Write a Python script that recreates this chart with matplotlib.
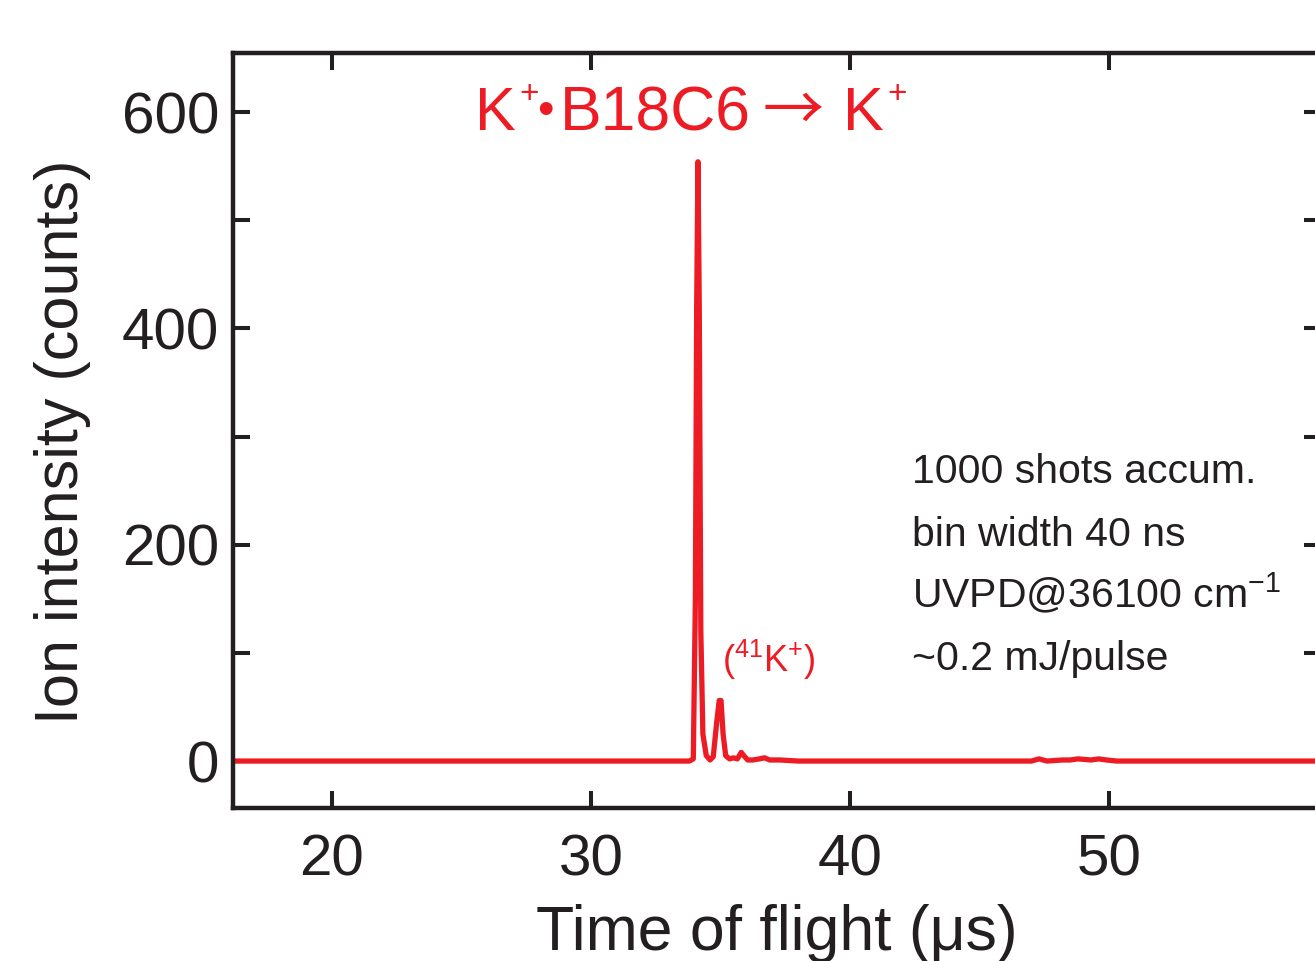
import matplotlib
matplotlib.use("Agg")
import matplotlib.pyplot as plt
from matplotlib.ticker import MultipleLocator

# ---- data ----
tof_us = [16.0, 19.0, 22.0, 27.0, 31.0, 33.8, 33.95, 34.03, 34.08, 34.13, 34.18,
          34.24, 34.32, 34.45, 34.6, 34.72, 34.85, 34.95, 35.02, 35.1, 35.2,
          35.35, 35.5, 35.65, 35.8, 35.9, 36.05, 36.25, 36.5, 36.7, 36.9, 37.3,
          38.0, 40.0, 44.0, 47.0, 47.3, 47.6, 48.2, 48.5, 48.8, 49.3, 49.6,
          49.9, 50.3, 53.0, 56.0, 58.5]
counts = [0, 0, 0, 0, 0, 0, 2, 150, 420, 554, 420,
          120, 25, 5, 1, 4, 35, 56, 56, 25, 5,
          2, 3, 2, 8, 5, 1, 1, 2, 3, 1, 1,
          0, 0, 0, 0, 2, 0, 1, 1, 2, 1, 2,
          1, 0, 0, 0, 0]

x_ticks = [20, 30, 40, 50]
y_ticks = [0, 200, 400, 600]

RED = "#ED1C24"
DARK = "#231F20"

plt.rcParams["font.family"] = ["Liberation Sans", "DejaVu Sans"]
plt.rcParams["mathtext.fontset"] = "custom"
plt.rcParams["mathtext.rm"] = "Liberation Sans"
plt.rcParams["mathtext.it"] = "Liberation Sans:italic"
plt.rcParams["mathtext.bf"] = "Liberation Sans:bold"
plt.rcParams["mathtext.default"] = "rm"

fig = plt.figure(figsize=(13.15, 9.61), dpi=100)
ax = fig.add_axes([0.1772, 0.1592, 0.8277, 0.7856])

ax.plot(tof_us, counts, color=RED, lw=3.8, solid_joinstyle="round")

ax.set_xlim(16.18, 58.2)
ax.set_ylim(-43.4, 654.5)
ax.set_xticks(x_ticks)
ax.set_yticks(y_ticks)
ax.yaxis.set_minor_locator(MultipleLocator(100))
ax.tick_params(which="both", direction="in", top=True, right=True,
               length=12, width=2.9, color=DARK, labelcolor=DARK,
               labelsize=42)
ax.tick_params(axis="y", pad=10)
ax.tick_params(axis="x", pad=18)
for s in ax.spines.values():
    s.set_linewidth(3.2)
    s.set_color(DARK)

ax.set_xlabel("Time of flight (μs)", fontsize=45, color=DARK, labelpad=12)
ax.set_ylabel("Ion intensity (counts)", fontsize=44, color=DARK, labelpad=22)
ax.yaxis.label.set_y(0.485)

# title "K+•B18C6 → K+" built from pieces
base_y = 583.3
ax.text(25.52, base_y, "K", color=RED, fontsize=44, ha="left", va="baseline")
ax.text(27.22, 616.6, "+", color=RED, fontsize=24, ha="left", va="center")
ax.text(28.22, 588.5, "•", color=RED, fontsize=34, ha="center", va="baseline")
ax.text(28.80, base_y, "B18C6", color=RED, fontsize=45, ha="left", va="baseline")
ax.text(37.82, 583.5, "→", color=RED, fontsize=44, ha="center", va="baseline",
        family="Noto Sans CJK SC")
ax.text(39.73, base_y, "K", color=RED, fontsize=44, ha="left", va="baseline")
ax.text(41.45, 616.6, "+", color=RED, fontsize=24, ha="left", va="center")

ax.text(35.06, 82.3, r"($^{41}$K$^{+}$)", color=RED, fontsize=26,
        ha="left", va="baseline")

notes = ["1000 shots accum.", "bin width 40 ns",
         r"UVPD@36100 cm$^{−1}$", "~0.2 mJ/pulse"]
note_y = [257, 198.8, 141.4, 84.1]
for t, y in zip(notes, note_y):
    ax.text(42.39, y, t, color=DARK, fontsize=29.5, ha="left", va="baseline")

fig.savefig("out.png", dpi=100)
